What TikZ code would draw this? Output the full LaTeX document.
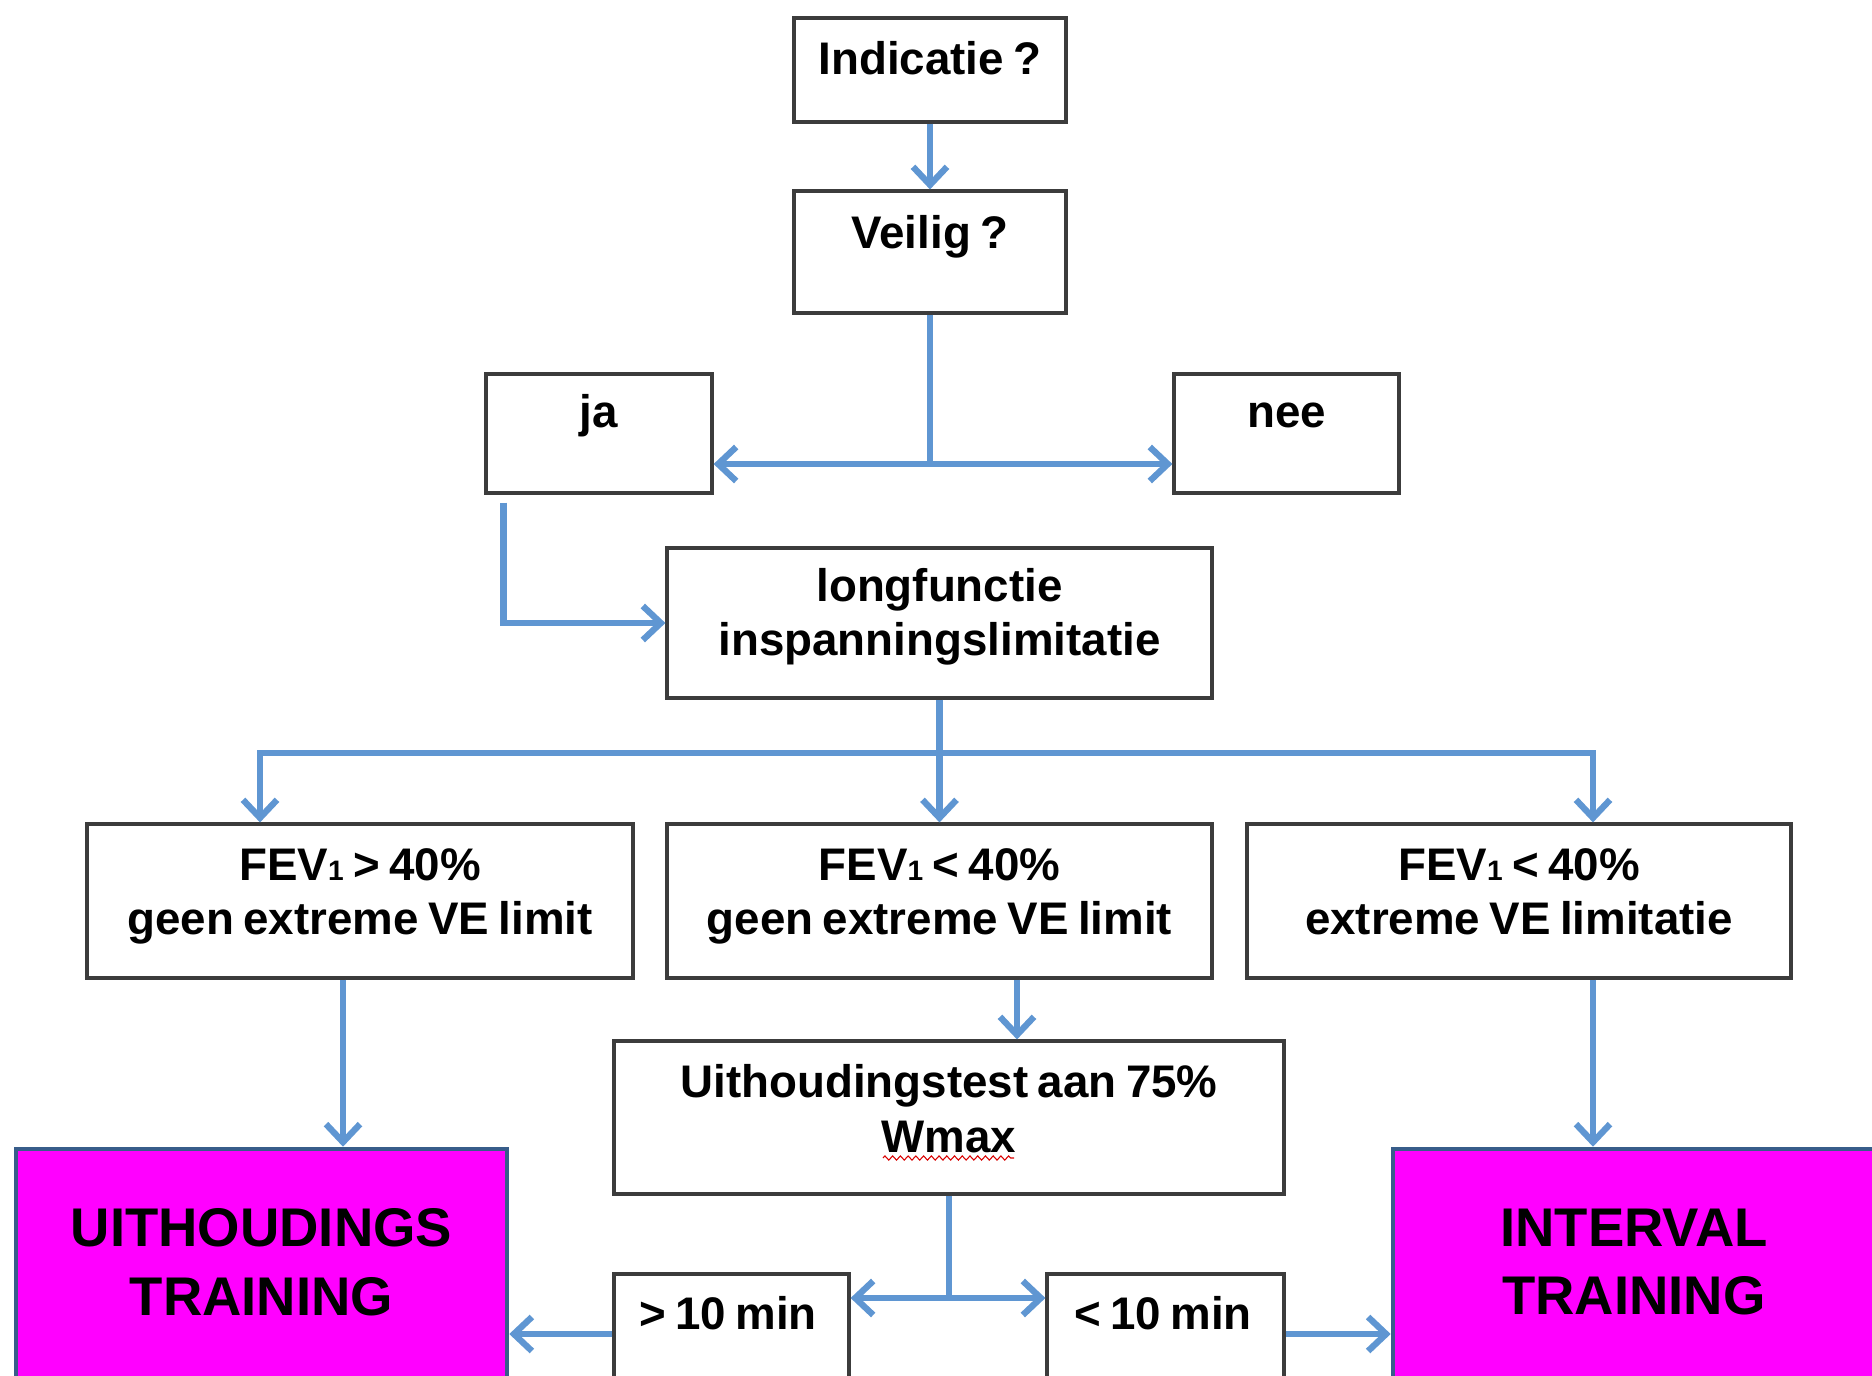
\documentclass[tikz,border=0pt]{standalone}
\usepackage{fontspec}
\setmainfont{Liberation Sans}[WordSpace=0.75]
\usetikzlibrary{arrows.meta}
\usetikzlibrary{positioning}
\usetikzlibrary{decorations.pathmorphing}
\definecolor{arrowblue}{RGB}{95,150,210}
\definecolor{pinkfill}{RGB}{255,0,255}
\definecolor{pinkedge}{RGB}{56,93,138}
\definecolor{boxedge}{RGB}{60,60,60}
\newcommand{\subone}{{\fontsize{8}{8}\selectfont 1}}

\begin{document}
\begin{tikzpicture}[y=-1cm,
  box/.style={draw=boxedge,line width=0.9pt,fill=white,inner sep=0pt},
  pinkbox/.style={draw=pinkedge,line width=1.3pt,fill=pinkfill,inner sep=0pt},
  txt/.style={font=\bfseries\fontsize{13}{15.5}\selectfont,align=center,inner sep=0pt},
  bigtxt/.style={font=\bfseries\fontsize{15.5}{19.5}\selectfont,align=center,inner sep=0pt},
  conn/.style={draw=arrowblue,line width=1.8pt,-{Straight Barb[length=0.18cm,width=0.34cm,line width=1.8pt]}},
  line/.style={draw=arrowblue,line width=1.8pt}]
\useasboundingbox (0,0) rectangle (18.72,13.76);
\clip (0,0) rectangle (18.72,13.76);

\node[box,minimum width=2.72cm,minimum height=1.04cm] (ind) at (9.30,0.70) {};
\node[txt,anchor=base] (indt) at (9.30,0.74) {Indicatie ?};
\node[box,minimum width=2.72cm,minimum height=1.22cm] (veil) at (9.30,2.52) {};
\node[txt,anchor=base] (veilt) at (9.30,2.48) {Veilig ?};
\node[box,minimum width=2.26cm,minimum height=1.19cm] (ja) at (5.99,4.335) {};
\node[txt,anchor=base] (jat) at (5.99,4.27) {ja};
\node[box,minimum width=2.25cm,minimum height=1.19cm] (nee) at (12.865,4.335) {};
\node[txt,anchor=base] (neet) at (12.865,4.27) {nee};
\node[box,minimum width=5.45cm,minimum height=1.50cm] (lung) at (9.395,6.23) {};
\node[txt] (lungt) at (9.395,6.17) {longfunctie\\inspanningslimitatie};

\node[box,minimum width=5.46cm,minimum height=1.54cm] (fev1) at (3.60,9.01) {};
\node[txt] (fev1t) at (3.60,8.965) {FEV\subone{} > 40\%\\geen extreme VE limit};
\node[box,minimum width=5.45cm,minimum height=1.54cm] (fev2) at (9.395,9.01) {};
\node[txt] (fev2t) at (9.395,8.965) {FEV\subone{} < 40\%\\geen extreme VE limit};
\node[box,minimum width=5.44cm,minimum height=1.54cm] (fev3) at (15.19,9.01) {};
\node[txt] (fev3t) at (15.19,8.92) {FEV\subone{} < 40\%\\extreme VE limitatie};

\node[box,minimum width=6.70cm,minimum height=1.53cm] (test) at (9.49,11.175) {};
\node[txt] (testt) at (9.49,11.085) {Uithoudingstest aan 75\%\\Wmax};
\draw[red!85!black,line width=0.3pt,decorate,decoration={zigzag,segment length=2.2pt,amplitude=0.6pt}] (8.83,11.58) -- (10.14,11.58);

\node[box,minimum width=2.35cm,minimum height=1.20cm] (gt10) at (7.315,13.34) {};
\node[txt,anchor=base] (gt10t) at (7.28,13.29) {> 10 min};
\node[box,minimum width=2.37cm,minimum height=1.20cm] (lt10) at (11.655,13.34) {};
\node[txt,anchor=base] (lt10t) at (11.63,13.29) {< 10 min};

\node[pinkbox,minimum width=4.91cm,minimum height=2.72cm] (uith) at (2.615,12.85) {};
\node[bigtxt] (uitht) at (2.615,12.62) {UITHOUDINGS\\TRAINING};
\node[pinkbox,minimum width=4.82cm,minimum height=2.72cm] (intv) at (16.34,12.85) {};
\node[bigtxt] (intvt) at (16.34,12.62) {INTERVAL\\TRAINING};

\coordinate (sp1) at (9.30,4.64);
\coordinate (sp2) at (9.395,7.53);
\coordinate (sp3) at (9.49,12.98);
\coordinate (fa) at ([xshift=-1.0cm]fev1.north);
\coordinate (fc) at ([xshift=0.74cm]fev3.north);

\draw[conn] (ind) -- (veil);
\draw[line] (veil.south) -- (sp1);
\draw[conn] (sp1) -- (sp1 -| ja.east);
\draw[conn] (sp1) -- (sp1 -| nee.west);
\draw[conn] ([xshift=0.19cm,yshift=-0.08cm]ja.south west) |- (lung.west);
\draw[line] (lung.south) -- (sp2);
\draw[conn] (sp2) -| (fa);
\draw[conn] (sp2) -- (fev2.north);
\draw[conn] (sp2) -| (fc);
\draw[conn] ([xshift=-0.17cm]fev1.south) -- ([xshift=-0.17cm]fev1.south |- uith.north);
\draw[conn] ([xshift=0.775cm]fev2.south) -- ([xshift=0.775cm]fev2.south |- test.north);
\draw[conn] ([xshift=0.74cm]fev3.south) -- ([xshift=0.74cm]fev3.south |- intv.north);
\draw[line] (test.south) -- (sp3);
\draw[conn] (sp3) -- (sp3 -| gt10.east);
\draw[conn] (sp3) -- (sp3 -| lt10.west);
\draw[conn] (gt10.west) -- (uith.east |- gt10.west);
\draw[conn] (lt10.east) -- (intv.west |- lt10.east);

\end{tikzpicture}
\end{document}
